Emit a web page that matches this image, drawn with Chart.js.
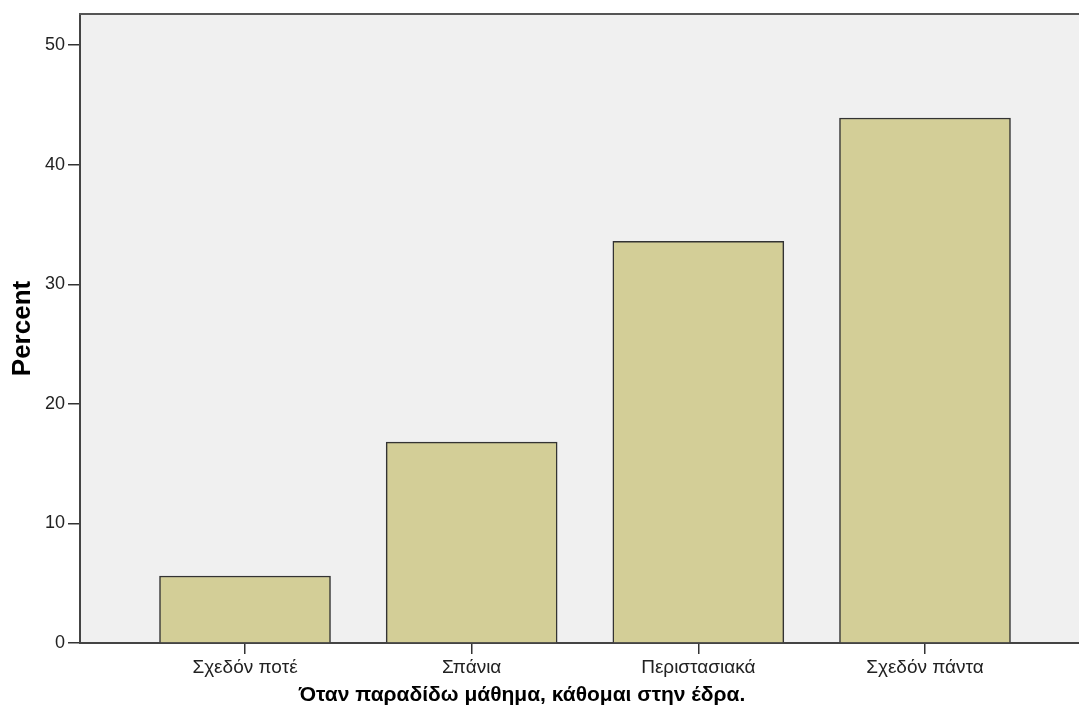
<!DOCTYPE html>
<html>
<head>
<meta charset="utf-8">
<script src="https://cdn.jsdelivr.net/npm/chart.js@4/dist/chart.umd.min.js"></script>
<style>
  html,body{margin:0;padding:0;background:#fff;overflow:hidden;width:1079px;height:727px;}
  #wrap{position:absolute;left:0;top:0;width:1100px;height:727px;}
</style>
</head>
<body>
<div id="wrap"><canvas id="c" width="1100" height="727"></canvas></div>
<script>
/* SPSS-style bar chart: percent per answer */
const categories = ["Σχεδόν ποτέ","Σπάνια","Περιστασιακά","Σχεδόν πάντα"];
const positions = [1,2,3,4];
const percents = [5.6, 16.8, 33.6, 43.9];
const yTicks = [0,10,20,30,40,50];
const xTitle = "Όταν παραδίδω μάθημα, κάθομαι στην έδρα.";
const yTitle = "Percent";

const FONT = "'Liberation Sans', Arial, sans-serif";

const frame = {
  id:"frame",
  beforeDraw(chart){
    const a=chart.chartArea, ctx=chart.ctx;
    ctx.save();
    ctx.fillStyle="#f0f0f0";
    ctx.fillRect(a.left,a.top,a.right-a.left,a.bottom-a.top);
    ctx.restore();
  },
  afterDraw(chart){
    const a=chart.chartArea, ctx=chart.ctx;
    ctx.save();
    ctx.strokeStyle="#555"; ctx.lineWidth=2;
    ctx.beginPath(); ctx.moveTo(a.left-1,a.top); ctx.lineTo(a.right,a.top); ctx.stroke();
    // x axis title, SPSS puts it a bit left of the plot centre
    ctx.fillStyle="#000";
    ctx.font="bold 21px "+FONT;
    ctx.textAlign="center"; ctx.textBaseline="middle";
    ctx.fillText(xTitle, 522, 695);
    ctx.restore();
  }
};

new Chart(document.getElementById("c").getContext("2d"), {
  type:"bar",
  data:{
    datasets:[{
      label:yTitle,
      data:positions.map((x,i)=>({x:x,y:percents[i]})),
      backgroundColor:"#d3ce97",
      borderColor:"#333",
      borderWidth:1.5,
      barThickness:171
    }]
  },
  options:{
    responsive:false,
    animation:false,
    devicePixelRatio:1,
    layout:{padding:{top:14,right:10,left:0,bottom:0}},
    plugins:{legend:{display:false},tooltip:{enabled:false}},
    scales:{
      x:{
        type:"linear",
        offset:false,
        min:0.272, max:4.728,
        afterBuildTicks:s=>{ s.ticks=positions.map(v=>({value:v})); },
        afterFit:s=>{ s.height=84; },
        border:{display:true,color:"#444",width:2},
        grid:{display:true,offset:false,drawOnChartArea:false,drawTicks:true,tickLength:11,color:"#333",lineWidth:1.5},
        ticks:{
          autoSkip:false,maxRotation:0,padding:2,color:"#222",
          font:{family:FONT,size:19},
          callback:v=>categories[positions.indexOf(v)]
        }
      },
      y:{
        min:0, max:52.6,
        afterBuildTicks:s=>{ s.ticks=yTicks.map(v=>({value:v})); },
        afterFit:s=>{ s.width=80; },
        border:{display:true,color:"#444",width:2},
        grid:{display:true,drawOnChartArea:false,drawTicks:true,tickLength:12,color:"#333",lineWidth:1.5},
        ticks:{padding:3,color:"#222",font:{family:FONT,size:18}},
        title:{display:true,text:yTitle,color:"#000",font:{family:FONT,size:26,weight:"bold"},padding:{top:7,bottom:0}}
      }
    }
  },
  plugins:[frame]
});
</script>
</body>
</html>
